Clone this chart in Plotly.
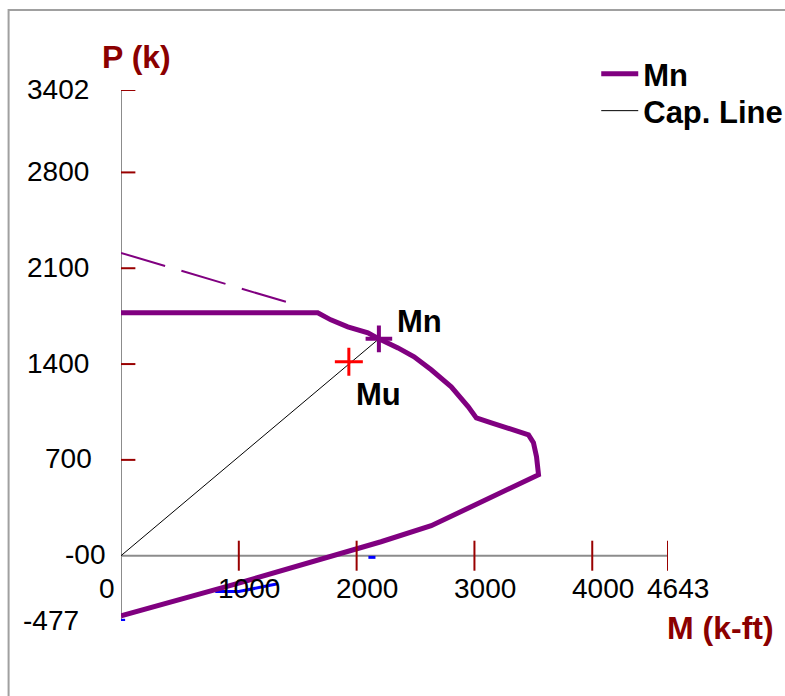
import plotly.graph_objects as go

# ---------------- data ----------------
mn_M = [0, 1670, 1781, 1925, 2096, 2189, 2351, 2488, 2633, 2803, 2948, 3016, 3144,
        3459, 3501, 3527, 3544, 3058, 2633, 2207, 1866, 954, 0]
mn_P = [1774, 1774, 1723, 1672, 1628, 1584, 1518, 1453, 1358, 1234, 1088, 1007, 971,
        883, 825, 723, 591, 394, 219, 102, 15, -212, -440]

cap_M = [0, 1457]          # dashed cap extension
cap_P = [2212, 1840]

blue_M = [0, 35, None, 800, 1000, 1330, None, 2100, 2160]
blue_P = [-472, -472, None, -262, -262, -205, None, -12, -12]

mn_point = (2189, 1584)
mu_point = (1934, 1416)

x_ticks = [1000, 2000, 3000, 4000, 4643]
x_tick_labels = ["1000", "2000", "3000", "4000", "4643"]
y_ticks = [3402, 2800, 2100, 1400, 700, 0, -477]
y_tick_labels = ["3402", "2800", "2100", "1400", "700", "-00", "-477"]

X_MAX = 4643
Y_MIN, Y_MAX = -477, 3402

TICK_RED = "#990000"
TITLE_RED = "#8B0000"
PURPLE = "#800080"
AXIS_GRAY = "#8c8c8c"
FONT = "Liberation Sans, Arial, sans-serif"

# horizontal page scale compensation (page is photographed slightly compressed)
W, H = 800, 696
SX, OX = 0.974, 2.9


def pos(v):       # horizontal position
    return (v - OX) / SX


def ln(v):        # horizontal length / shift
    return v / SX


PX_L, PX_R, PX_T, PX_B = pos(121), pos(666), 90, 621


def px_to_paper_x(px):
    return (px - PX_L) / (PX_R - PX_L)


def px_to_paper_y(py):
    return (PX_B - py) / (PX_B - PX_T)


fig = go.Figure()

# axes lines crossing at origin
fig.add_trace(go.Scatter(x=[0, X_MAX], y=[0, 0], mode="lines",
                         line=dict(color=AXIS_GRAY, width=2), showlegend=False,
                         hoverinfo="skip", cliponaxis=False))
fig.add_trace(go.Scatter(x=[0, 0], y=[Y_MIN, Y_MAX], mode="lines",
                         line=dict(color=AXIS_GRAY, width=2), showlegend=False,
                         hoverinfo="skip", cliponaxis=False))

# blue bits underneath
fig.add_trace(go.Scatter(x=blue_M, y=blue_P, mode="lines",
                         line=dict(color="#0000ff", width=3), showlegend=False,
                         hoverinfo="skip", connectgaps=False))

# dashed cap extension
fig.add_trace(go.Scatter(x=cap_M, y=cap_P, mode="lines",
                         line=dict(color=PURPLE, width=2, dash="46px,17px"),
                         showlegend=False, hoverinfo="skip"))

# Mn curve
fig.add_trace(go.Scatter(x=mn_M, y=mn_P, mode="lines", name="Mn", legend="legend",
                         line=dict(color=PURPLE, width=5), cliponaxis=False))

# capacity line
fig.add_trace(go.Scatter(x=[0, mn_point[0]], y=[0, mn_point[1]], mode="lines",
                         name="Cap. Line", legend="legend2",
                         line=dict(color="black", width=1)))

# Mn point marker
fig.add_trace(go.Scatter(x=[mn_point[0]], y=[mn_point[1]], mode="markers",
                         marker=dict(symbol="cross-thin", size=19,
                                     line=dict(color=PURPLE, width=4)),
                         showlegend=False, hoverinfo="skip"))
# Mu point marker
fig.add_trace(go.Scatter(x=[mu_point[0]], y=[mu_point[1]], mode="markers",
                         marker=dict(symbol="cross-thin", size=20,
                                     line=dict(color="red", width=3)),
                         showlegend=False, hoverinfo="skip"))

shapes = []
for t in y_ticks:
    left_only = t <= 0
    shapes.append(dict(type="line", xref="x", yref="y", xsizemode="pixel", xanchor=0,
                       x0=ln(-15), x1=0 if left_only else ln(14), y0=t, y1=t,
                       line=dict(color=TICK_RED, width=2)))
for t in x_ticks:
    shapes.append(dict(type="line", xref="x", yref="y", ysizemode="pixel", yanchor=0,
                       y0=-15, y1=15, x0=t, x1=t,
                       line=dict(color=TICK_RED, width=2)))
# outer frame (left and top edges)
shapes.append(dict(type="rect", xref="paper", yref="paper",
                   x0=px_to_paper_x(pos(9)), x1=px_to_paper_x(W + 40),
                   y0=px_to_paper_y(H + 40), y1=px_to_paper_y(10),
                   line=dict(color="#a0a0a0", width=2), layer="below"))

annotations = []
tick_font = dict(family=FONT, size=28, color="black")
for t, lab in zip(x_ticks, x_tick_labels):
    annotations.append(dict(x=t, y=0, xref="x", yref="y", text=lab, showarrow=False,
                            xanchor="center", yanchor="middle", xshift=ln(10), yshift=-33,
                            font=tick_font))
annotations.append(dict(x=0, y=0, xref="x", yref="y", text="0", showarrow=False,
                        xanchor="center", yanchor="middle", xshift=ln(-14), yshift=-33,
                        font=tick_font))
label_shift = {"700": -26, "-00": -14, "-477": -39}
for t, lab in zip(y_ticks, y_tick_labels):
    xs = ln(label_shift.get(lab, -29))
    annotations.append(dict(x=0, y=t, xref="x", yref="y", text=lab, showarrow=False,
                            xanchor="right", yanchor="middle", xshift=xs, yshift=1,
                            font=tick_font))

title_font = dict(family=FONT, size=32, color=TITLE_RED, weight="bold")
annotations.append(dict(x=0, y=Y_MAX, xref="x", yref="y", text="P (k)", showarrow=False,
                        xanchor="center", yanchor="middle", xshift=ln(15), yshift=33,
                        font=title_font))
annotations.append(dict(x=X_MAX, y=Y_MIN, xref="x", yref="y", text="M (k-ft)",
                        showarrow=False, xanchor="center", yanchor="middle",
                        xshift=ln(51), yshift=-7, font=title_font))

lab_font = dict(family=FONT, size=31, color="black", weight="bold")
annotations.append(dict(x=mn_point[0], y=mn_point[1], xref="x", yref="y", text="Mn",
                        showarrow=False, xanchor="center", yanchor="middle",
                        xshift=ln(40), yshift=17, font=lab_font))
annotations.append(dict(x=mu_point[0], y=mu_point[1], xref="x", yref="y", text="Mu",
                        showarrow=False, xanchor="center", yanchor="middle",
                        xshift=ln(29), yshift=-33, font=lab_font))

legend_font = dict(family=FONT, size=31, color="black", weight="bold")
LEG_X = 607.4
fig.update_layout(
    width=W, height=H, autosize=False,
    margin=dict(l=PX_L, r=W - PX_R, t=PX_T, b=H - PX_B, pad=0),
    paper_bgcolor="white", plot_bgcolor="white",
    xaxis=dict(range=[0, X_MAX], visible=False, showgrid=False, zeroline=False),
    yaxis=dict(range=[Y_MIN, Y_MAX], visible=False, showgrid=False, zeroline=False),
    shapes=shapes, annotations=annotations,
    legend=dict(x=px_to_paper_x(LEG_X), y=px_to_paper_y(74), xanchor="left",
                yanchor="middle", bgcolor="rgba(0,0,0,0)", font=legend_font,
                itemwidth=37),
    legend2=dict(x=px_to_paper_x(LEG_X), y=px_to_paper_y(111), xanchor="left",
                 yanchor="middle", bgcolor="rgba(0,0,0,0)", font=legend_font,
                 itemwidth=37),
    showlegend=True,
)

fig.write_html("out.html",
               config={"responsive": False, "displayModeBar": False},
               post_script="document.body.style.margin='0px';"
                           "document.body.style.overflow='hidden';")
